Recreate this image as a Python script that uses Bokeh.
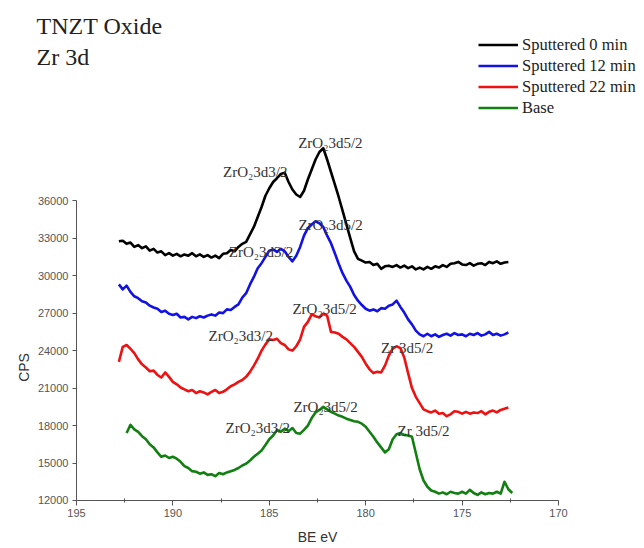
import math
from bokeh.plotting import figure
from bokeh.models import Range1d, FixedTicker, Legend, LegendItem, Label, ColumnDataSource
from bokeh.core.properties import value
from bokeh.embed import file_html
from bokeh.resources import INLINE

# Binding energy grid (eV), shared by all four spectra
BE = [
    192.8, 192.6, 192.4, 192.2, 192.0, 191.8, 191.6, 191.4, 191.2, 191.0,
    190.8, 190.6, 190.4, 190.2, 190.0, 189.8, 189.6, 189.4, 189.2, 189.0,
    188.8, 188.6, 188.4, 188.2, 188.0, 187.8, 187.6, 187.4, 187.2, 187.0,
    186.8, 186.6, 186.4, 186.2, 186.0, 185.8, 185.6, 185.4, 185.2, 185.0,
    184.8, 184.6, 184.4, 184.2, 184.0, 183.8, 183.6, 183.4, 183.2, 183.0,
    182.8, 182.6, 182.4, 182.2, 182.0, 181.8, 181.6, 181.4, 181.2, 181.0,
    180.8, 180.6, 180.4, 180.2, 180.0, 179.8, 179.6, 179.4, 179.2, 179.0,
    178.8, 178.6, 178.4, 178.2, 178.0, 177.8, 177.6, 177.4, 177.2, 177.0,
    176.8, 176.6, 176.4, 176.2, 176.0, 175.8, 175.6, 175.4, 175.2, 175.0,
    174.8, 174.6, 174.4, 174.2, 174.0, 173.8, 173.6, 173.4, 173.2, 173.0,
    172.8, 172.6, 172.4,
]

NAN = float("nan")

# Counts per second for each sputtering time
CPS_0MIN = [
    32750, 32800, 32550, 32650, 32300, 32450, 32200, 32350, 32000, 32150,
    31850, 31950, 31650, 31800, 31600, 31750, 31550, 31700, 31600, 31800,
    31550, 31700, 31500, 31650, 31450, 31600, 31400, 31750, 31800, 32050,
    31950, 32300, 32550, 32700, 33300, 33900, 34700, 35500, 36400, 37000,
    37500, 37800, 38150, 38250, 37500, 36900, 36500, 36300, 36800, 37700,
    38500, 39300, 39900, 40200, 39300, 38300, 37300, 36300, 35200, 34100,
    33000, 31950, 31350, 31200, 31050, 31100, 30850, 30950, 30550, 30750,
    30800, 30700, 30850, 30650, 30800, 30600, 30750, 30500, 30650, 30500,
    30700, 30550, 30750, 30650, 30850, 30700, 30950, 31000, 31100, 30900,
    30850, 31000, 30800, 30950, 31000, 30850, 31100, 31000, 31150, 30950,
    31050, 31100, NAN,
]

CPS_12MIN = [
    29300, 28900, 29200, 28700, 28350, 28200, 27950, 27850, 27600, 27450,
    27350, 27100, 27200, 26950, 26850, 26950, 26650, 26700, 26500, 26700,
    26600, 26750, 26650, 26800, 26900, 26800, 27050, 27000, 27300, 27250,
    27500, 27700, 28250, 28600, 29300, 29900, 30600, 31000, 31500, 32000,
    32100, 31900, 32150, 31950, 31500, 31150, 31600, 32300, 33200, 33800,
    34100, 34350, 34200, 33900, 33200, 32600, 31800, 30950, 30200, 29600,
    29100, 28450, 28000, 27650, 27350, 27200, 27300, 27150, 27400, 27350,
    27600, 27700, 28000, 27500, 27050, 26500, 26100, 25600, 25300, 25150,
    25350, 25150, 25300, 25100, 25250, 25350, 25200, 25400, 25250, 25300,
    25150, 25350, 25250, 25400, 25200, 25300, 25500, 25250, 25350, 25200,
    25300, 25450, NAN,
]

CPS_22MIN = [
    23100, 24300, 24450, 24150, 23800, 23300, 22900, 22650, 22350, 22400,
    22050, 21850, 22250, 21900, 21500, 21300, 21050, 20900, 20750, 20850,
    20600, 20750, 20650, 20500, 20700, 20850, 20600, 20700, 20900, 21150,
    21300, 21500, 21650, 21900, 22300, 22800, 23350, 24000, 24500, 24900,
    24850, 24950, 24600, 24450, 24100, 24000, 24350, 24900, 25900, 26300,
    26900, 26750, 26650, 26950, 26800, 25500, 25450, 25350, 25100, 24900,
    24600, 24300, 23900, 23500, 22950, 22500, 22200, 22300, 22250, 22800,
    23600, 24150, 24350, 24200, 23450, 22200, 21000, 20300, 19800, 19300,
    19150, 19050, 19200, 18950, 19000, 18750, 18900, 19150, 19100, 18950,
    19100, 18950, 19050, 19000, 19150, 18900, 19100, 19200, 19050, 19250,
    19350, 19450, NAN,
]

CPS_BASE = [
    NAN, NAN, 17400, 18050, 17700, 17500, 17150, 16900, 16500, 16250,
    15850, 15500, 15600, 15400, 15500, 15350, 15100, 14750, 14600, 14350,
    14300, 14150, 14250, 14050, 14100, 13950, 14200, 14100, 14250, 14350,
    14450, 14600, 14800, 14950, 15200, 15500, 15750, 16000, 16450, 16900,
    17200, 17650, 17500, 17750, 17550, 17800, 17400, 17350, 17650, 18000,
    18600, 19050, 19250, 19500, 19300, 19100, 18950, 18800, 18700, 18550,
    18450, 18350, 18300, 18150, 17900, 17500, 17100, 16650, 16250, 15850,
    16100, 16900, 17300, 17400, 17250, 17200, 17100, 15800, 14500, 13600,
    13100, 12800, 12700, 12550, 12650, 12500, 12700, 12600, 12550, 12700,
    12550, 12850, 12600, 12450, 12650, 12500, 12600, 12550, 12700, 12550,
    13500, 12900, 12600,
]

SERIES_NAMES = ["Sputtered 0 min", "Sputtered 12 min", "Sputtered 22 min", "Base"]
SERIES_COLORS = ["#000000", "#1212e6", "#ee1111", "#118011"]

# Peak assignments written next to the spectra (anchor: left end of the baseline)
PEAK_TEXT = [
    "ZrO\u20823d3/2", "ZrO\u20823d5/2",
    "ZrO\u20823d3/2", "ZrO\u20823d5/2",
    "ZrO\u20823d3/2", "ZrO\u20823d5/2", "Zr 3d5/2",
    "ZrO\u20823d3/2", "ZrO\u20823d5/2", "Zr 3d5/2",
]
PEAK_BE = [187.4, 183.5, 187.1, 183.49, 188.15, 183.8, 179.2, 187.27, 183.75, 178.35]
PEAK_CPS = [38300, 40600, 31900, 34060, 25170, 27330, 24210, 17780, 19450, 17560]

X_TICKS = [195, 190, 185, 180, 175, 170]
X_MINOR = [192.5, 187.5, 182.5, 177.5, 172.5]
Y_TICKS = [12000, 15000, 18000, 21000, 24000, 27000, 30000, 33000, 36000]

SERIF = "Liberation Serif"
SANS = "Liberation Sans"

# The frame fills the whole canvas; both axes are pinned at the origin (195 eV, 12000 CPS)
p = figure(
    width=644, height=548,
    x_range=Range1d(198.94, 165.54), y_range=Range1d(8157, 52030),
    min_border_left=0, min_border_right=0, min_border_top=0, min_border_bottom=0,
    output_backend="svg", toolbar_location=None,
    background_fill_color="white", border_fill_color="white",
)
p.outline_line_color = None
p.grid.visible = False

src = ColumnDataSource(dict(be=BE, s0=CPS_0MIN, s12=CPS_12MIN, s22=CPS_22MIN, base=CPS_BASE))
renderers = []
for col, color in zip(["s0", "s12", "s22", "base"], SERIES_COLORS):
    r = p.line("be", col, source=src, line_color=color, line_width=2.6, line_join="round")
    renderers.append(r)

AXIS_GREY = "#555555"

# x axis
xa = p.xaxis[0]
xa.fixed_location = 12000
xa.ticker = FixedTicker(ticks=X_TICKS, minor_ticks=X_MINOR)
xa.bounds = (170, 195)
xa.axis_label = "BE eV"
xa.axis_label_text_font = SANS
xa.axis_label_text_font_style = "normal"
xa.axis_label_text_font_size = "14px"
xa.axis_label_text_color = "#333333"
xa.axis_label_standoff = 8
xa.major_label_text_font = SANS
xa.major_label_text_font_size = "11px"
xa.major_label_text_color = AXIS_GREY
xa.major_label_standoff = 4
xa.major_tick_in = 0
xa.major_tick_out = 5
xa.minor_tick_in = 2
xa.minor_tick_out = 2
xa.axis_line_color = AXIS_GREY
xa.major_tick_line_color = AXIS_GREY
xa.minor_tick_line_color = AXIS_GREY

# y axis
ya = p.yaxis[0]
ya.fixed_location = 195
ya.ticker = FixedTicker(ticks=Y_TICKS, minor_ticks=[])
ya.bounds = (12000, 36000)
ya.major_label_text_font = SANS
ya.major_label_text_font_size = "11px"
ya.major_label_text_color = AXIS_GREY
ya.major_label_standoff = 4
ya.major_tick_in = 0
ya.major_tick_out = 4
ya.minor_tick_line_color = None
ya.axis_line_color = AXIS_GREY
ya.major_tick_line_color = AXIS_GREY

p.add_layout(Label(x=197.7, y=22650, text="CPS", angle=math.pi / 2,
                   text_font=SANS, text_font_size="14px", text_color="#333333",
                   text_align="center", text_baseline="middle"))

# peak assignments
p.text(x=PEAK_BE, y=PEAK_CPS, text=PEAK_TEXT, text_font=value(SERIF),
       text_font_size="15px", text_color="#333333",
       text_align="left", text_baseline="alphabetic")

# heading
p.add_layout(Label(x=197.07, y=49950, text="TNZT Oxide", text_font=SERIF,
                   text_font_size="24px", text_color="#222222",
                   text_align="left", text_baseline="alphabetic"))
p.add_layout(Label(x=197.07, y=47470, text="Zr 3d", text_font=SERIF,
                   text_font_size="24px", text_color="#222222",
                   text_align="left", text_baseline="alphabetic"))

legend = Legend(
    items=[LegendItem(label=n, renderers=[r]) for n, r in zip(SERIES_NAMES, renderers)],
    location=(478, 430), orientation="vertical",
    padding=0, margin=0, spacing=0,
    glyph_width=40, glyph_height=21, label_height=21, label_standoff=4,
    label_text_font=SERIF, label_text_font_size="16.5px", label_text_color="#222222",
    border_line_color=None, background_fill_alpha=0,
)
p.add_layout(legend)

open("out.html", "w").write(file_html(p, INLINE))
